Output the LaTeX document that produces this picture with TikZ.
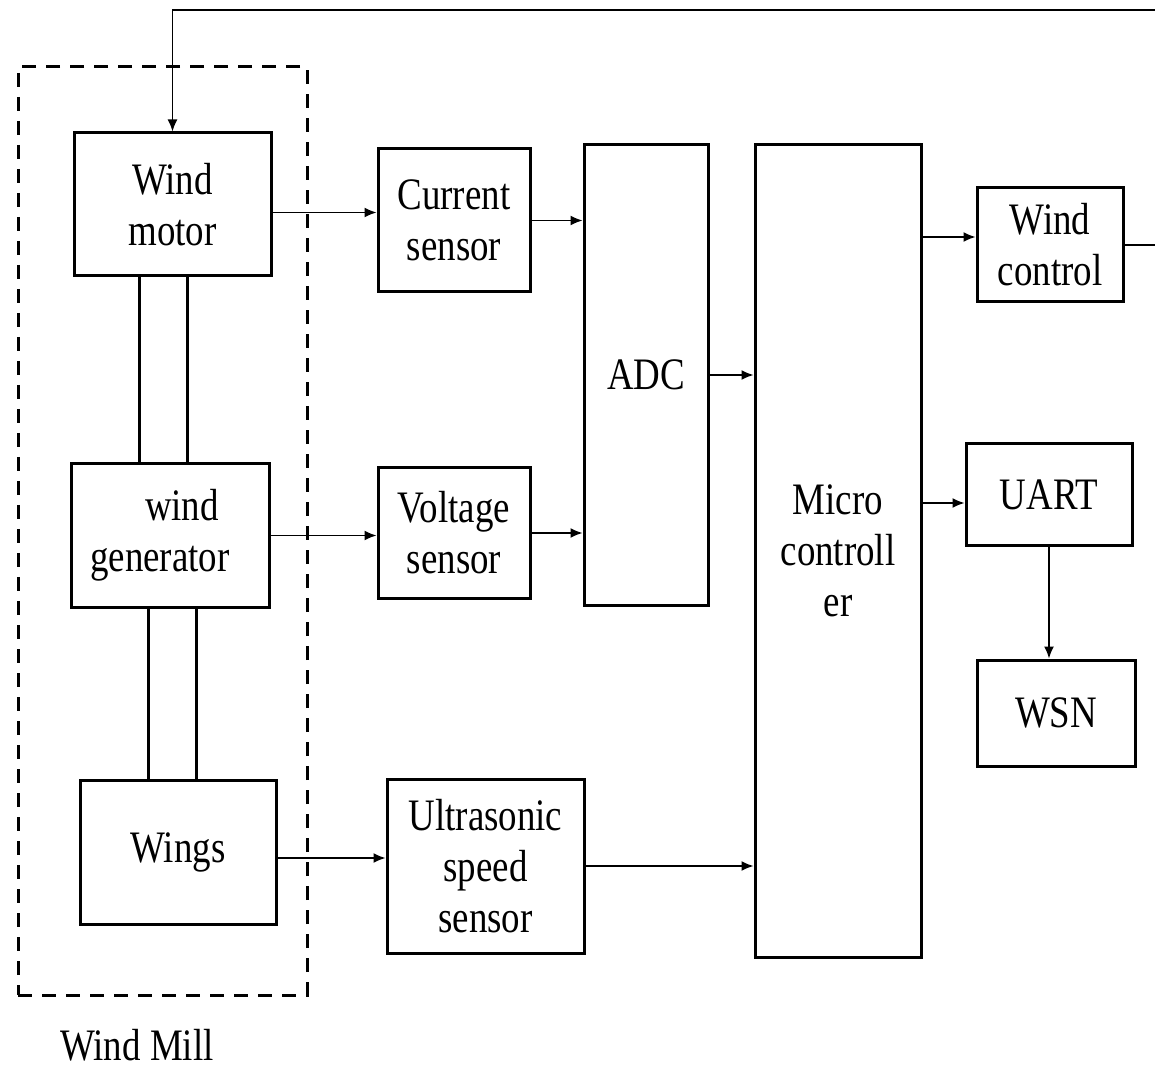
\documentclass[tikz,border=0pt]{standalone}
\usepackage{fontspec}
\setmainfont{Liberation Serif}[FakeStretch=0.82]
\usepackage{tikz}
\usetikzlibrary{arrows.meta}

\begin{document}
\begin{tikzpicture}[x=0.5pt,y=-0.5pt,>={Latex[length=6pt,width=5pt]},
  box/.style={draw,line width=1.5pt,inner sep=0pt,align=center,
    font=\fontsize{22.5}{25.5}\selectfont},
  conn/.style={->,line width=0.75pt}]
\clip (0,0) rectangle (1155,1068);
\fill[white] (0,0) rectangle (1155,1068);
% wind mill
\node[draw,dashed,dash pattern=on 7pt off 5pt,line width=1.5pt,minimum width=144.5pt,minimum height=464pt](mill) at (162.5,531){};
\node[inner sep=0pt,font=\fontsize{22.5}{25.5}\selectfont](millname) at (137,1045){Wind Mill};
\node[box,minimum width=98.5pt,minimum height=71.5pt](motor) at (172.5,204.5){Wind\\motor};
\node[box,minimum width=24pt,minimum height=94pt](shaftA) at (163,370){};
\node[box,minimum width=99pt,minimum height=71.5pt](gen) at (170,535.5){\hspace*{0.53em}wind\\generator\hspace*{0.45em}};
\node[box,minimum width=24pt,minimum height=86.5pt](shaftB) at (172,693.5){};
\node[box,minimum width=98pt,minimum height=72pt](wings) at (178,852){Wings};
% sensors
\node[box,minimum width=76pt,minimum height=71.5pt](cur) at (454,220.5){Current\\sensor};
\node[box,minimum width=76pt,minimum height=65pt](volt) at (454,533){Voltage\\sensor};
\node[box,minimum width=98.5pt,minimum height=87pt](ultra) at (485.5,866){Ultrasonic\\speed\\sensor};
\node[box,minimum width=62pt,minimum height=230pt](adc) at (646,375){ADC};
\node[box,minimum width=83pt,minimum height=406pt](mcu) at (838,551){Micro\\controll\\er};
% outputs
\node[box,minimum width=73pt,minimum height=57pt](wctl) at (1050,245){Wind\\control};
\node[box,minimum width=83pt,minimum height=51pt](uart) at (1049,495){UART};
\node[box,minimum width=79pt,minimum height=53pt](wsn) at (1056,713){WSN};
\coordinate (corner) at (1160,10);

\draw[conn]([yshift=-4pt]motor.east)--([yshift=-4pt]motor.east -| cur.west);
\draw[conn](cur.east)--(cur.east -| adc.west);
\draw[conn](gen.east)--(gen.east -| volt.west);
\draw[conn](volt.east)--(volt.east -| adc.west);
\draw[conn](adc.east)--(adc.east -| mcu.west);
\draw[conn]([yshift=-3pt]wings.east)--([yshift=-3pt]wings.east -| ultra.west);
\draw[conn](ultra.east)--(ultra.east -| mcu.west);
\draw[conn]([yshift=4pt]wctl.west -| mcu.east)--([yshift=4pt]wctl.west);
\draw[conn]([yshift=-4pt]uart.west -| mcu.east)--([yshift=-4pt]uart.west);
\draw[conn](uart.south)--(uart.south |- wsn.north);
\draw[conn](wctl.east)-|(corner)-|(motor.north);
\end{tikzpicture}
\end{document}
